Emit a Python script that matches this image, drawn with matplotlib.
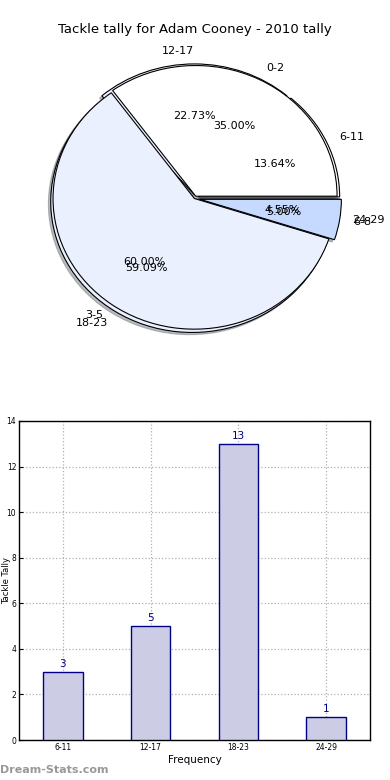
import matplotlib
matplotlib.use("Agg")
import matplotlib.pyplot as plt

title = "Tackle tally for Adam Cooney - 2010 tally"
pie_a_labels = ["0-2", "3-5", "6-8"]
pie_a_values = [35.0, 60.0, 5.0]
pie_b_labels = ["6-11", "12-17", "18-23", "24-29"]
pie_b_values = [3, 5, 13, 1]
bar_labels = ["6-11", "12-17", "18-23", "24-29"]
bar_values = [3, 5, 13, 1]

fig = plt.figure(figsize=(3.9, 7.8), dpi=100)

# Pie area
ax1 = fig.add_axes([0.136, 0.578, 0.725, 0.335])
ax1.axis("off")

shadow = dict(ox=-0.012, oy=-0.012, shade=0.5)
ax1.pie(pie_b_values, labels=pie_b_labels, explode=[0.03] * 4,
        colors=["white", "#eaf0fd", "#eaf0fd", "#c6d9fe"],
        autopct="%1.2f%%", shadow=shadow, startangle=0,
        wedgeprops=dict(edgecolor="black", linewidth=0.8),
        textprops=dict(fontsize=8), radius=1.0, frame=False)
ax1.pie(pie_a_values, labels=pie_a_labels, explode=[0.02, 0.0, 0.04],
        colors=["white", "#eaf0fd", "#c6d9fe"],
        autopct="%1.2f%%", shadow=shadow, startangle=0,
        wedgeprops=dict(edgecolor="black", linewidth=0.8),
        textprops=dict(fontsize=8), radius=1.0, frame=False)
ax1.set_aspect("auto")
ax1.set_xlim(-1.0, 1.0)
ax1.set_ylim(-1.0, 1.0)

fig.text(0.5, 1 - 30 / 780, title, ha="center", va="center", fontsize=9.5)

# Bar chart
ax2 = fig.add_axes([19 / 390, 1 - 740 / 780, 351 / 390, 319 / 780])
x = range(len(bar_labels))
ax2.bar(x, bar_values, width=0.45, color="#ccccE5",
        edgecolor="#000088", linewidth=1.0, zorder=3)
for xi, v in zip(x, bar_values):
    ax2.text(xi, v + 0.12, str(v), ha="center", va="bottom",
             color="#000088", fontsize=7.5, zorder=4)
ax2.set_xticks(list(x))
ax2.set_xticklabels(bar_labels, fontsize=5.5)
ax2.set_ylim(0, 14)
ax2.set_xlim(-0.5, 3.5)
ax2.set_yticks(range(0, 15, 2))
ax2.tick_params(axis="y", labelsize=5.5, direction="in", length=3, pad=2)
ax2.tick_params(axis="x", direction="in", length=3, pad=2)
ax2.grid(True, linestyle=":", color="#b0b0b0", linewidth=0.9, zorder=0)
ax2.set_xlabel("Frequency", fontsize=7.5, labelpad=2)
for s in ax2.spines.values():
    s.set_linewidth(1.0)

fig.text(2 / 390, 1 - 580 / 780, "Tackle Tally", rotation=90, ha="left",
         va="center", fontsize=6)

fig.text(0.0, 1 - 770 / 780, "Dream-Stats.com", ha="left", va="center",
         fontsize=8, color="#999999", fontweight="bold")

fig.savefig("out.png", dpi=100)
